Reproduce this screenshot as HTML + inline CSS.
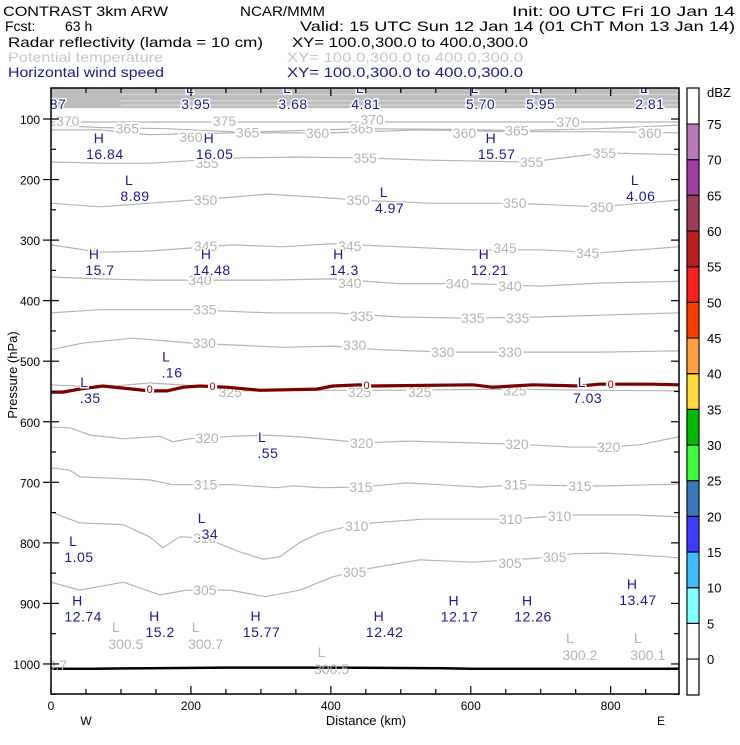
<!DOCTYPE html>
<html><head><meta charset="utf-8"><style>
html,body{margin:0;padding:0;background:#fff;}
svg text{font-family:"Liberation Sans",sans-serif;}
</style></head><body>
<svg id="chart" width="740" height="740" viewBox="0 0 740 740" xmlns="http://www.w3.org/2000/svg">
<g font-size="14">
<text x="3" y="16" textLength="165" lengthAdjust="spacingAndGlyphs">CONTRAST  3km ARW</text>
<text x="240" y="16" textLength="85" lengthAdjust="spacingAndGlyphs">NCAR/MMM</text>
<text x="512" y="16" textLength="223" lengthAdjust="spacingAndGlyphs">Init: 00 UTC Fri 10 Jan 14</text>
<text x="5" y="31">Fcst:</text>
<text x="65" y="31">63 h</text>
<text x="300" y="31" textLength="435" lengthAdjust="spacingAndGlyphs">Valid: 15 UTC Sun 12 Jan 14 (01 ChT Mon 13 Jan 14)</text>
<text x="8" y="47" textLength="255" lengthAdjust="spacingAndGlyphs">Radar reflectivity (lamda = 10 cm)</text>
<text x="292" y="47" textLength="236" lengthAdjust="spacingAndGlyphs">XY= 100.0,300.0 to 400.0,300.0</text>
<text x="8" y="62" fill="#c8c8c8" textLength="155" lengthAdjust="spacingAndGlyphs">Potential temperature</text>
<text x="287" y="62" fill="#c8c8c8" textLength="236" lengthAdjust="spacingAndGlyphs">XY= 100.0,300.0 to 400.0,300.0</text>
<text x="8" y="77" fill="#1a1a96" textLength="156" lengthAdjust="spacingAndGlyphs">Horizontal wind speed</text>
<text x="287" y="77" fill="#1a1a96" textLength="236" lengthAdjust="spacingAndGlyphs">XY= 100.0,300.0 to 400.0,300.0</text>
</g>
<defs><clipPath id="plotclip"><rect x="51" y="88" width="628" height="606"/></clipPath></defs>
<g id="plot" clip-path="url(#plotclip)"></g>
<g id="axes"></g>
<g id="cbar"></g>
</svg>
<script>
// ---- data ----
const thetaLevels=[305,310,315,320,325,330,335,340,345,350,355,360,365];
const thetaKm=[
[0,41,103,156,194,256,306,356,403,441,456,527,603,699,746,794,880,897],
[0,41,103,141,160,184,220,270,303,327,356,384,420,460,531,637,680,746,841,897],
[0,27,41,103,141,174,260,323,346,384,441,509,556,613,666,756,794,897],
[0,27,56,103,156,174,199,260,309,356,403,444,509,603,666,746,797,841,897],
[0,70,141,213,256,356,499,641,784,897],
[0,46,117,199,331,403,470,570,670,784,897],
[0,70,199,309,403,499,599,699,784,897],
[0,70,141,309,403,499,599,699,784,897],
[0,70,141,260,331,403,499,599,699,784,897],
[0,70,141,260,309,380,441,541,663,784,897],
[0,70,141,270,356,441,541,684,791,897],
[0,70,141,260,399,527,670,784,897],
[0,70,166,277,356,444,570,666,784,897]];
const thetaP=[
[865,878,865,886,878,878,889,878,856,845,842,828,832,825,818,817,823,825],
[749,767,770,790,808,790,792,815,827,823,799,784,774,767,761,761,759,754,754,757],
[676,680,691,694,696,704,704,709,706,709,708,701,704,708,704,706,706,703],
[609,610,622,628,624,633,628,624,622,625,630,635,632,635,637,642,642,638,625],
[539,543,536,541,549,548,548,546,548,549],
[481,470,462,470,477,475,481,485,485,485,483],
[420,415,415,420,420,427,429,427,424,420],
[361,364,366,366,364,372,372,376,371,368],
[308,320,318,308,311,306,311,316,316,321,311],
[239,245,239,229,224,229,234,239,239,245,234],
[171,173,173,164,163,164,168,171,156,159],
[118,118,126,123,123,118,121,121,123],
[110,114,116,122,119,116,117,119,116,110]];
const labelLevel=[305,305,305,305,310,310,310,310,315,315,315,315,320,320,320,320,325,325,325,325,330,330,330,330,335,335,335,335,340,340,340,340,345,345,345,345,350,350,350,350,355,355,355,355,360,360,360,360,365,365,365,365,370,370,370,375];
const labelKm=[220,434,656,720,220,437,657,727,221,443,664,756,223,444,666,797,256,441,527,663,219,434,560,656,220,444,603,667,213,427,581,656,221,427,649,767,221,439,663,787,223,449,687,791,200,381,591,856,109,281,444,666,24,459,739,248];
const labelP=[878,848,833,823,792,772,761,756,704,708,704,706,627,635,637,642,551,551,551,548,470,473,485,485,415,425,429,429,366,371,372,376,310,310,313,321,234,234,239,245,173,164,171,156,130,123,123,123,116,122,116,119,103,101,105,103];
const freezeKm=[0,17,41,74,117,141,166,189,213,251,299,380,403,441,460,603,631,689,756,784,813,860,897];
const freezeP=[551,551,546,541,546,549,549,543,541,543,548,546,541,539,541,539,543,539,541,538,538,538,539];
const freezeLabelKm=[141,231,451,800];
const surfaceKm=[0,60,140,250,400,560,600,897];
const surfaceP=[1008,1008,1007,1006,1006,1007,1008,1008];
const windType=["","L","L","L","L","L","L","H","H","H","L","L","L","H","H","H","H","L","L","L","L","L","L","H","H","H","H","H","H","H"];
const windVal=["87","3.95","3.68","4.81","5.70","5.95","2.81","16.84","16.05","15.57","8.89","4.97","4.06","15.7","14.48","14.3","12.21",".16",".35","7.03",".55",".34","1.05","13.47","12.74","15.2","15.77","12.42","12.17","12.26"];
const windKm=[10,207,346,450,614,700,856,77,234,637,120,484,843,70,230,419,627,173,56,767,310,224,40,839,46,156,301,477,584,689];
const windP=[75,75,75,75,75,75,75,158,158,158,227,247,227,349,349,349,349,519,561,561,652,785,823,894,922,947,947,947,922,922];
const minVal=["300.5","300.7","300.5","300.7","300.2","300.1"];
const minKm=[107,221,401,-2,756,853];
const minP=[967,967,1008,1002,985,985];
const xTicks=[0,200,400,600,800];
const yTicks=[100,200,300,400,500,600,700,800,900,1000];
const dbzLevels=[0,5,10,15,20,25,30,35,40,45,50,55,60,65,70,75];
const dbzColors=["#ffffff","#80ffff","#3cbcff","#3c3cff","#3c78bc","#3cff3c","#00bc00","#ffdc3c","#ffa03c","#ff3c00","#ff1e1e","#bc1e1e","#a03c5a","#a03ca0","#bc78bc"];

// ---- axes ----
const X0=51,X1=679,Y0=88,Y1=694;
const xs=k=>51+k*0.6996;
const ys=p=>119+(p-100)*0.6055;
const NS="http://www.w3.org/2000/svg";
function mk(tag,attrs,parent,txt){const e=document.createElementNS(NS,tag);for(const k in attrs)e.setAttribute(k,attrs[k]);if(txt!==undefined)e.textContent=txt;parent.appendChild(e);return e;}
const plot=document.getElementById('plot'),axes=document.getElementById('axes'),cbar=document.getElementById('cbar');

// top gray band
let band=mk('rect',{x:X0,y:Y0,width:X1-X0,height:ys(82)-Y0,fill:'#bdbdbd'},plot);


[60,70,77].forEach(p=>{let l=mk('line',{x1:X0+70,x2:X1,y1:ys(p),y2:ys(p),stroke:'#e6e6e6','stroke-width':0.8},plot);

});

// theta contours
thetaLevels.forEach((lv,i)=>{
 const d=thetaKm[i].map((k,j)=>(j?'L':'M')+xs(k).toFixed(1)+','+ys(thetaP[i][j]).toFixed(1)).join('');
 const pth=mk('path',{d:d,fill:'none',stroke:'#b4b4b4','stroke-width':1.2},plot);
 
 
});
// 370 line
let l370=mk('line',{x1:X0,x2:X1,y1:ys(105),y2:ys(105),stroke:'#b4b4b4','stroke-width':1.2},plot);


// contour labels
labelLevel.forEach((lv,i)=>{
 const t=mk('text',{x:xs(labelKm[i]),y:ys(labelP[i])+5,'text-anchor':'middle','font-size':14,fill:'#b4b4b4',stroke:'#fff','stroke-width':4,'paint-order':'stroke'},plot,String(lv));
 
 
});
// freezing line
const fd=freezeKm.map((k,j)=>(j?'L':'M')+xs(k).toFixed(1)+','+ys(freezeP[j]).toFixed(1)).join('');
const fl=mk('path',{d:fd,fill:'none',stroke:'#7d0000','stroke-width':3.2},plot);


freezeLabelKm.forEach(k=>{
 let j=0;while(j<freezeKm.length-1&&freezeKm[j+1]<k)j++;
 const p=freezeP[j];
 const t=mk('text',{x:xs(k),y:ys(p)+4,'text-anchor':'middle','font-size':11,fill:'#a00000',stroke:'#fff','stroke-width':4,'paint-order':'stroke'},plot,'0');
 
 
});
// surface
const sd=surfaceKm.map((k,j)=>(j?'L':'M')+xs(k).toFixed(1)+','+ys(surfaceP[j]).toFixed(1)).join('');
const sl=mk('path',{d:sd,fill:'none',stroke:'#000','stroke-width':2.5},plot);


// theta minima labels
minVal.forEach((v,i)=>{
 const x=xs(minKm[i]),y=ys(minP[i]);
 const g=mk('g',{},plot);
 
 
 mk('text',{x:x-10,y:y-12,'text-anchor':'middle','font-size':14,fill:'#b4b4b4'},g,'L');
 mk('text',{x:x,y:y+5,'text-anchor':'middle','font-size':14,fill:'#b4b4b4'},g,v);
});
// wind labels
windVal.forEach((v,i)=>{
 const x=xs(windKm[i]),y=ys(windP[i]);
 const g=mk('g',{},plot);
 
 
 if(windType[i])mk('text',{x:x-6,y:y-11,'text-anchor':'middle','font-size':14,fill:'#1a1a96',stroke:'#fff','stroke-width':3,'paint-order':'stroke'},g,windType[i]);
 mk('text',{x:x,y:y+5,'text-anchor':'middle','font-size':14,fill:'#1a1a96',stroke:'#fff','stroke-width':3,'paint-order':'stroke','letter-spacing':0.5},g,v);
});

// frame & ticks
const fr=mk('rect',{x:X0,y:Y0,width:X1-X0,height:Y1-Y0,fill:'none',stroke:'#000','stroke-width':1.5},axes);


for(let k=0;k<=890;k+=50){
 const major=k%200===0, len=major?8:5;
 mk('line',{x1:xs(k),x2:xs(k),y1:Y1,y2:Y1-len,stroke:'#000','stroke-width':1.2},axes);
 mk('line',{x1:xs(k),x2:xs(k),y1:Y0,y2:Y0+len,stroke:'#000','stroke-width':1.2},axes);
}
for(let p=100;p<=1050;p+=50){
 const major=p%100===0,len=major?8:5;
 mk('line',{x1:major?X0-8:X0,x2:X0+len,y1:ys(p),y2:ys(p),stroke:'#000','stroke-width':1.2},axes);
 mk('line',{x1:X1,x2:X1-len,y1:ys(p),y2:ys(p),stroke:'#000','stroke-width':1.2},axes);
}
xTicks.forEach(k=>{const t=mk('text',{x:xs(k),y:710,'text-anchor':'middle','font-size':12},axes,String(k));
 
 });
yTicks.forEach(p=>{const t=mk('text',{x:40,y:ys(p)+5,'text-anchor':'end','font-size':12},axes,String(p));
 
 });
let t1=mk('text',{x:86,y:725,'text-anchor':'middle','font-size':12},axes,'W');

let t2=mk('text',{x:366,y:725,'text-anchor':'middle','font-size':13},axes,'Distance (km)');

let t3=mk('text',{x:661,y:725,'text-anchor':'middle','font-size':12},axes,'E');

let t4=mk('text',{x:17,y:375,'text-anchor':'middle','font-size':13,transform:'rotate(-90 17 375)'},axes,'Pressure (hPa)');


// colorbar
const cy=v=>124+(75-v)/5*35.67;
const CX=687,CW=12;
let cb=mk('rect',{x:CX,y:88,width:CW,height:607,fill:'#fff',stroke:'#000','stroke-width':1.2},cbar);

dbzColors.forEach((c,i)=>{
 const r=mk('rect',{x:CX,y:cy(dbzLevels[i+1]),width:CW,height:cy(dbzLevels[i])-cy(dbzLevels[i+1]),fill:c,stroke:'#000','stroke-width':1},cbar);
 
 
});
dbzLevels.forEach(v=>{
 mk('line',{x1:CX,x2:CX+CW,y1:cy(v),y2:cy(v),stroke:'#000','stroke-width':1},cbar);
 const t=mk('text',{x:707,y:cy(v)+5,'font-size':13},cbar,String(v));
 
 
});
let dz=mk('text',{x:707,y:97,'font-size':13},cbar,'dBZ');

</script>
</body></html>
